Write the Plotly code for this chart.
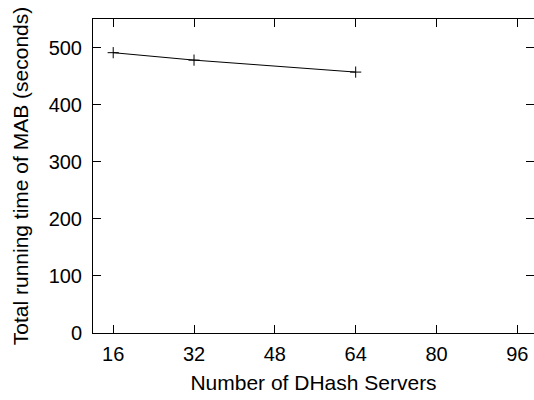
import plotly.graph_objects as go

servers = [16, 32, 64]
running_time = [491, 478, 457]
x_ticks = [16, 32, 48, 64, 80, 96]
y_ticks = [0, 100, 200, 300, 400, 500]

font = "Liberation Sans, Arial, sans-serif"

fig = go.Figure()
fig.add_trace(go.Scatter(
    x=servers, y=running_time, mode="lines+markers",
    line=dict(color="black", width=1),
    marker=dict(symbol="cross-thin", size=8, line=dict(color="black", width=1)),
    showlegend=False,
))

fig.update_layout(
    width=534, height=400,
    margin=dict(l=93, r=0, t=19, b=67),
    paper_bgcolor="white", plot_bgcolor="white",
    font=dict(family=font, size=20, color="black"),
)
fig.update_xaxes(
    range=[12, 99.3], tickvals=x_ticks, ticks="inside", ticklen=8,
    tickcolor="black", showline=True, linecolor="black", linewidth=1,
    mirror="ticks", showgrid=False, zeroline=False, ticklabelstandoff=3,
    automargin=False,
    title=dict(text="Number of DHash Servers", standoff=11, font=dict(size=21)),
)
fig.update_yaxes(
    range=[0, 550], tickvals=y_ticks, ticks="inside", ticklen=8,
    tickcolor="black", showline=True, linecolor="black", linewidth=1,
    mirror="ticks", showgrid=False, zeroline=False, ticklabelstandoff=6,
    automargin=False,
    title=dict(text="Total running time of MAB (seconds)", standoff=14, font=dict(size=21)),
)

fig.write_html("out.html", config={"displayModeBar": False},
               post_script="document.body.style.margin='0';")
